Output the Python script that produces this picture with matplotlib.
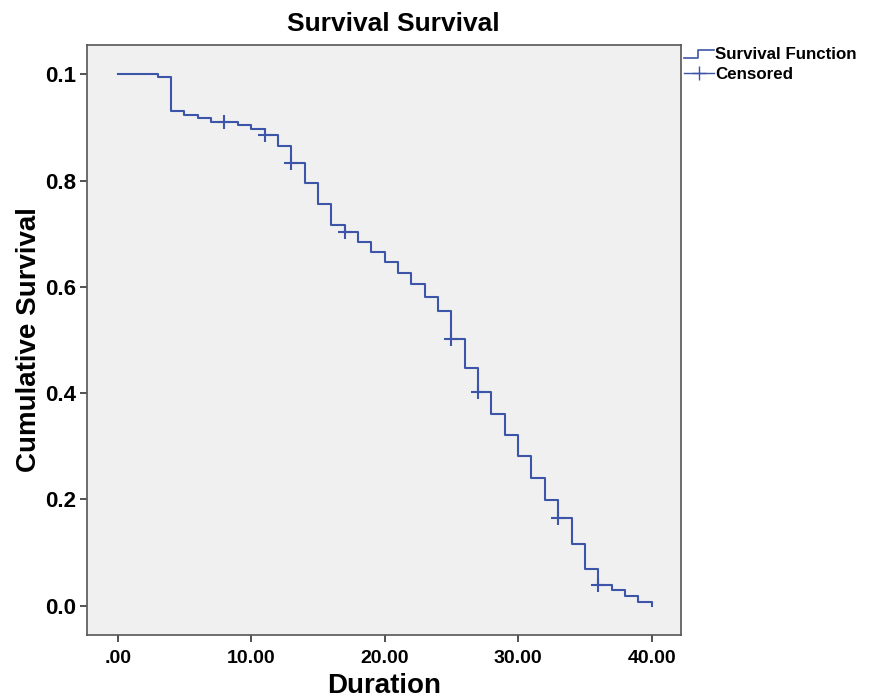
import numpy as np
import matplotlib
matplotlib.use('Agg')
import matplotlib.pyplot as plt
from matplotlib.lines import Line2D
from matplotlib.legend_handler import HandlerBase

plt.rcParams['font.family'] = ['Liberation Sans', 'DejaVu Sans']

# step times and survival values
times = [0, 3, 4, 5, 6, 7, 9, 10, 11, 12, 13, 14, 15, 16, 17, 18, 19, 20,
         21, 22, 23, 24, 25, 26, 27, 28, 29, 30, 31, 32, 33, 34, 35, 36,
         37, 38, 39, 40]
surv = [1.0, 0.994, 0.931, 0.923, 0.917, 0.911, 0.904, 0.897, 0.885, 0.865,
        0.833, 0.795, 0.756, 0.717, 0.704, 0.685, 0.665, 0.646, 0.626, 0.605,
        0.580, 0.554, 0.501, 0.448, 0.402, 0.361, 0.321, 0.281, 0.240, 0.199,
        0.166, 0.117, 0.069, 0.039, 0.030, 0.019, 0.008, 0.0]
cens_t = [8, 11, 13, 17, 25, 27, 33, 36]
cens_s = [0.911, 0.885, 0.833, 0.704, 0.501, 0.402, 0.166, 0.039]

xticks = [0, 10, 20, 30, 40]
xticklabels = ['.00', '10.00', '20.00', '30.00', '40.00']
yticks = [0.0, 0.2, 0.4, 0.6, 0.8, 1.0]
yticklabels = ['0.0', '0.2', '0.4', '0.6', '0.8', '0.1']

blue = '#3d55a8'


class StepHandler(HandlerBase):
    # little step icon for the survival function entry
    def create_artists(self, legend, orig, xd, yd, width, height, fontsize, trans):
        xs = [xd, xd + width * 0.45, xd + width * 0.45, xd + width]
        ys = [yd + height * 0.15, yd + height * 0.15, yd + height * 0.8, yd + height * 0.8]
        ln = Line2D(xs, ys, color=blue, lw=1.2, transform=trans)
        return [ln]


fig = plt.figure(figsize=(8.69, 6.98), dpi=100)
ax = fig.add_axes([87 / 869, 1 - 635 / 698, (681 - 87) / 869, (635 - 45) / 698])
ax.set_facecolor('#f0f0f0')

ax.step(times, surv, where='post', color=blue, lw=1.5)
ax.plot(cens_t, cens_s, linestyle='none', marker='+', markersize=10,
        markeredgewidth=1.5, color=blue)

ax.set_xlim(-2.3, 42.2)
ax.set_ylim(-0.055, 1.055)
ax.set_xticks(xticks)
ax.set_xticklabels(xticklabels, fontsize=14, fontweight='bold')
ax.set_yticks(yticks)
ax.set_yticklabels(yticklabels, fontsize=16, fontweight='bold')
ax.tick_params(axis='both', direction='out', length=5, width=1.2, color='#333333')
ax.tick_params(axis='x', pad=6)
ax.tick_params(axis='y', pad=3)
for s in ax.spines.values():
    s.set_color('#555555')
    s.set_linewidth(1.2)

ax.set_title('Survival Survival', fontsize=19, fontweight='bold', pad=10, x=0.515)
ax.set_xlabel('Duration', fontsize=20, fontweight='bold', labelpad=4)
ax.set_ylabel('Cumulative Survival', fontsize=20, fontweight='bold', labelpad=2)

h1 = Line2D([], [], color=blue)
h2 = Line2D([], [], color=blue, marker='+', markersize=10, lw=1.0)
fig.legend([h1, h2], ['Survival Function', 'Censored'],
           handler_map={h1: StepHandler()},
           loc='upper left', bbox_to_anchor=(681 / 869, 1 - 44 / 698),
           frameon=False, handlelength=1.75, handletextpad=0.05,
           labelspacing=0.25, borderaxespad=0, borderpad=0.2,
           prop={'size': 12.2, 'weight': 'bold'})

fig.savefig('out.png', dpi=100)
